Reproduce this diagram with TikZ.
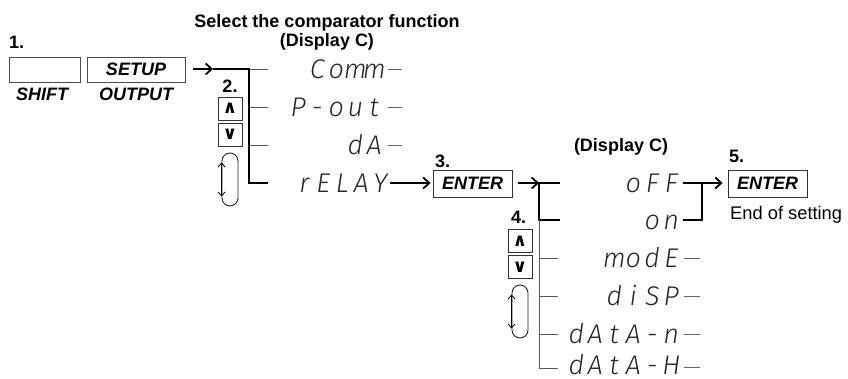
\documentclass[tikz,border=0pt]{standalone}
\usepackage{fontspec}
\setmainfont{Liberation Sans}
\newfontfamily\segfont{Fira Sans Light Italic}
\newfontfamily\symfont{DejaVu Sans}
\usetikzlibrary{arrows.meta}
\newcommand\sgc[1]{\makebox[19pt][c]{#1}}
\tikzset{
  lbl/.style={font=\fontsize{18}{20}\selectfont\bfseries, inner sep=0pt},
  ilbl/.style={font=\fontsize{18}{20}\selectfont\bfseries\itshape, inner sep=0pt},
  rlbl/.style={font=\fontsize{18.3}{20}\selectfont, inner sep=0pt},
  keybox/.style={draw=black!70, line width=0.9pt, inner sep=0pt, minimum height=25pt},
  entbox/.style={draw=black!80, line width=0.9pt, inner sep=0pt, minimum width=79pt, minimum height=27pt,
    font=\fontsize{18}{20}\selectfont\bfseries\itshape},
  seg/.style={font=\segfont\fontsize{27}{27}\selectfont, text=black!85, inner sep=0pt, anchor=base east},
  bus/.style={line width=2.2pt, black, line join=miter},
  tick/.style={line width=0.9pt, black!65},
  dsh/.style={line width=0.9pt, black!60},
  arr/.style={line width=2.2pt, -{Straight Barb[length=6pt,width=11pt,line width=1.8pt]}},
  updn/.style={draw=black!80, line width=0.9pt, minimum width=24pt, minimum height=23pt, inner sep=0pt,
    font=\symfont\bfseries\fontsize{18}{18}\selectfont},
  knob/.style={draw=black!85, line width=0.9pt, rounded corners=8pt, minimum width=16pt, minimum height=53pt, inner sep=0pt},
  knobarr/.style={line width=0.8pt, {Straight Barb[length=4pt,width=7pt]}-{Straight Barb[length=4pt,width=7pt]}}
}
\begin{document}
\begin{tikzpicture}[x=1pt,y=-1pt]
\useasboundingbox (0,0) rectangle (848,378);

% titles
\node[lbl, anchor=base] (title) at (327,27) {Select the comparator function};
\node[lbl, anchor=base] (disp1) at (327,46) {(Display C)};

% step 1
\node[lbl, anchor=base west] (n1) at (9,48) {1.};
\node[keybox, minimum width=71pt] (key1) at (44.5,69.5) {};
\node[keybox, minimum width=98pt, font=\fontsize{18}{20}\selectfont\bfseries\itshape] (key2) at (136,69.5) {SETUP};
\node[ilbl, anchor=base] (shift) at (42,100) {SHIFT};
\node[ilbl, anchor=base] (output) at (136,100) {OUTPUT};

% step 2
\node[lbl, anchor=base] (n2) at (230,92) {2.};
\node[updn] (up1) at (230,108.5) {∧};
\node[updn] (dn1) at (230,134.5) {∨};
\node[knob] (knob1) at (230,179.5) {};
\draw[knobarr] ([yshift=17pt]knob1.west) -- ([yshift=-17pt]knob1.west);

% menu 1
\coordinate (b1a) at (249,69);
\coordinate (b1d) at (249,183);
\draw[tick] (b1a) -- (268,69);
\draw[tick] (249,107) -- (268,107);
\draw[tick] (249,145) -- (268,145);
\draw[arr] ([xshift=8pt]key2.east |- b1a) -- (213,69);
\draw[bus] (213,69) -- (b1a) -- (b1d) -- (268,183);

\node[seg] (sComm) at (384,78) {\sgc{C}\sgc{o}\sgc{m}\sgc{m}};
\node[seg] (sPout) at (384,116) {\sgc{P}\sgc{-}\sgc{o}\sgc{u}\sgc{t}};
\node[seg] (sdA) at (384,154) {\sgc{d}\sgc{A}};
\node[seg] (sRelay) at (390,192) {\sgc{r}\sgc{E}\sgc{L}\sgc{A}\sgc{Y}};
\draw[dsh] (388,69) -- (402,69);
\draw[dsh] (388,107) -- (402,107);
\draw[dsh] (388,145) -- (402,145);

% step 3
\node[lbl, anchor=base west] (n3) at (435,167) {3.};
\node[entbox] (ent1) at (472.5,183.5) {ENTER};
\coordinate (rr) at (390,183);
\draw[arr, shorten >=2pt] (rr) -- (ent1.west |- rr);

% menu 2
\node[lbl, anchor=base] (disp2) at (621,151) {(Display C)};
\coordinate (b2a) at (539,183);
\coordinate (b2b) at (539,220);
\draw[bus] (560,183) -- (b2a) -- (b2b) -- (560,220);
\draw[arr] ([xshift=6pt]ent1.east |- b2a) -- (b2a);
\draw[tick] (b2b) -- (539,368) -- (558,368);
\draw[tick] (539,258) -- (558,258);
\draw[tick] (539,296) -- (558,296);
\draw[tick] (539,334) -- (558,334);

\node[seg] (soff) at (681,192) {\sgc{o}\sgc{F}\sgc{F}};
\node[seg] (son) at (681,229) {\sgc{o}\sgc{n}};
\node[seg] (smode) at (681,267) {\sgc{m}\sgc{o}\sgc{d}\sgc{E}};
\node[seg] (sdisp) at (681,305) {\sgc{d}\sgc{i}\sgc{S}\sgc{P}};
\node[seg] (sdatan) at (681,343) {\sgc{d}\sgc{A}\sgc{t}\sgc{A}\sgc{-}\sgc{n}};
\node[seg] (sdatah) at (681,374) {\sgc{d}\sgc{A}\sgc{t}\sgc{A}\sgc{-}\sgc{H}};
\draw[dsh] (684,258) -- (700,258);
\draw[dsh] (684,296) -- (700,296);
\draw[dsh] (684,334) -- (700,334);
\draw[dsh] (684,367) -- (700,367);

% step 4
\node[lbl, anchor=base west] (n4) at (511,223) {4.};
\node[updn] (up2) at (520,241) {∧};
\node[updn] (dn2) at (520,267) {∨};
\node[knob] (knob2) at (520,311.5) {};
\draw[knobarr] ([yshift=17pt]knob2.west) -- ([yshift=-17pt]knob2.west);

% step 5
\node[lbl, anchor=base west] (n5) at (729,162) {5.};
\node[entbox] (ent2) at (767.5,183.5) {ENTER};
\node[rlbl, anchor=base west] (eos) at (730,219) {End of setting};
\coordinate (oa) at (683,183);
\coordinate (ob) at (683,220);
\draw[bus] (ob) -- (702,220) -- (702,183);
\draw[arr, shorten >=5pt] (oa) -- (ent2.west |- oa);
\end{tikzpicture}
\end{document}
